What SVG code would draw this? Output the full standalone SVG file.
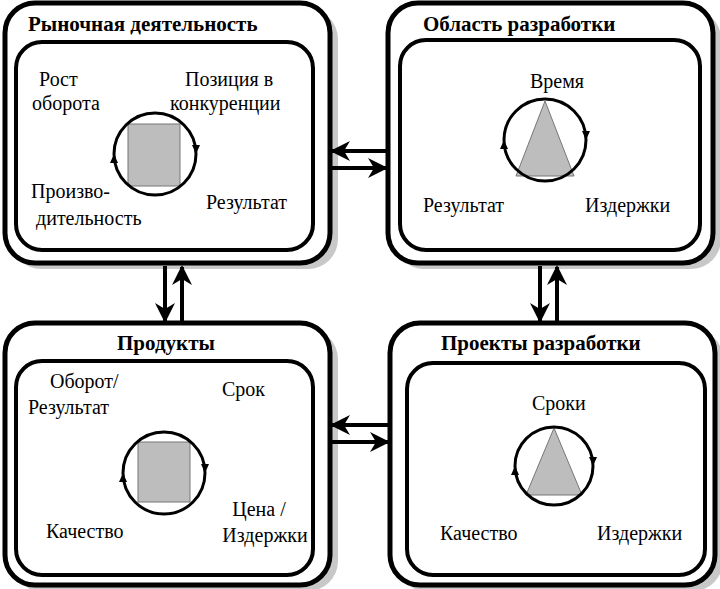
<svg xmlns="http://www.w3.org/2000/svg" width="720" height="589" viewBox="0 0 720 589">
<defs>
<marker id="ah" viewBox="0 0 10 10" refX="9" refY="5" markerWidth="5" markerHeight="5" orient="auto"><path d="M0,0 L10,5 L0,10 L3,5 Z" fill="#000"/></marker>
</defs>
<style>
.outer{fill:#fff;stroke:#000;stroke-width:5}
.shadow{fill:#c8c8c8}
.inner{fill:#fff;stroke:#000;stroke-width:4}
.t{font-family:"Liberation Serif","DejaVu Serif","Times New Roman",serif;font-size:20px;fill:#000}
.h{font-family:"Liberation Serif","DejaVu Serif","Times New Roman",serif;font-size:21px;font-weight:bold;fill:#000}
.c{fill:none;stroke:#000;stroke-width:3}
.sh{fill:#bdbdbd;stroke:#777;stroke-width:1}
.ar{stroke:#000;stroke-width:4;fill:none;marker-end:url(#ah)}
</style>
<g id="market">
<rect class="shadow" x="11" y="9" width="327" height="260" rx="30"/>
<rect class="outer" x="5" y="3" width="325" height="260" rx="30"/>
<rect class="inner" x="16" y="42" width="297" height="208" rx="26"/>
<text class="h" x="28" y="31">Рыночная деятельность</text>
<text class="t" x="39" y="86">Рост</text>
<text class="t" x="32" y="110">оборота</text>
<text class="t" x="185" y="86">Позиция  в</text>
<text class="t" x="170" y="110">конкуренции</text>
<text class="t" x="31" y="198">Произво-</text>
<text class="t" x="36" y="225">дительность</text>
<text class="t" x="206" y="209">Результат</text>
<rect class="sh" x="128" y="124" width="52" height="62"/>
<circle class="c" cx="155" cy="154" r="41"/>
<path d="M196,154 L192,145 L200,145 Z M114,154 L110,163 L118,163 Z" fill="#000"/>
</g>
<g id="devarea">
<rect class="shadow" x="394" y="9" width="327" height="260" rx="30"/>
<rect class="outer" x="388" y="3" width="325" height="260" rx="30"/>
<rect class="inner" x="400" y="40" width="300" height="210" rx="26"/>
<text class="h" x="423" y="31">Область  разработки</text>
<text class="t" x="530" y="88">Время</text>
<text class="t" x="423" y="212">Результат</text>
<text class="t" x="585" y="212">Издержки</text>
<path class="sh" d="M545,101 L574,176 L516,176 Z"/>
<circle class="c" cx="545" cy="140" r="41"/>
<path d="M586,140 L582,131 L590,131 Z M504,140 L500,149 L508,149 Z" fill="#000"/>
</g>
<g id="products">
<rect class="shadow" x="11" y="329" width="327" height="262" rx="30"/>
<rect class="outer" x="5" y="323" width="325" height="262" rx="30"/>
<rect class="inner" x="16" y="361" width="297" height="214" rx="26"/>
<text class="h" x="117" y="350">Продукты</text>
<text class="t" x="50" y="388">Оборот/</text>
<text class="t" x="28" y="414">Результат</text>
<text class="t" x="222" y="396">Срок</text>
<text class="t" x="46" y="538">Качество</text>
<text class="t" x="259" y="516" text-anchor="middle">Цена /</text>
<text class="t" x="265" y="542" text-anchor="middle">Издержки</text>
<rect class="sh" x="138" y="442" width="52" height="60"/>
<circle class="c" cx="164" cy="473" r="41"/>
<path d="M205,473 L201,464 L209,464 Z M123,473 L119,482 L127,482 Z" fill="#000"/>
</g>
<g id="projects">
<rect class="shadow" x="396" y="329" width="327" height="262" rx="30"/>
<rect class="outer" x="390" y="323" width="325" height="262" rx="30"/>
<rect class="inner" x="407" y="363" width="298" height="212" rx="26"/>
<text class="h" x="441" y="350">Проекты  разработки</text>
<text class="t" x="532" y="410">Сроки</text>
<text class="t" x="440" y="540">Качество</text>
<text class="t" x="597" y="540">Издержки</text>
<path class="sh" d="M554,428 L582,495 L526,495 Z"/>
<circle class="c" cx="554" cy="466" r="39"/>
<path d="M593,466 L589,457 L597,457 Z M515,466 L511,475 L519,475 Z" fill="#000"/>
</g>
<g id="connectors">
<line class="ar" x1="388" y1="151" x2="332" y2="151"/>
<line class="ar" x1="330" y1="168" x2="386" y2="168"/>
<line class="ar" x1="165" y1="266" x2="165" y2="321"/>
<line class="ar" x1="182" y1="323" x2="182" y2="267"/>
<line class="ar" x1="540" y1="266" x2="540" y2="321"/>
<line class="ar" x1="557" y1="323" x2="557" y2="267"/>
<line class="ar" x1="390" y1="425" x2="332" y2="425"/>
<line class="ar" x1="330" y1="442" x2="388" y2="442"/>
</g>
</svg>
